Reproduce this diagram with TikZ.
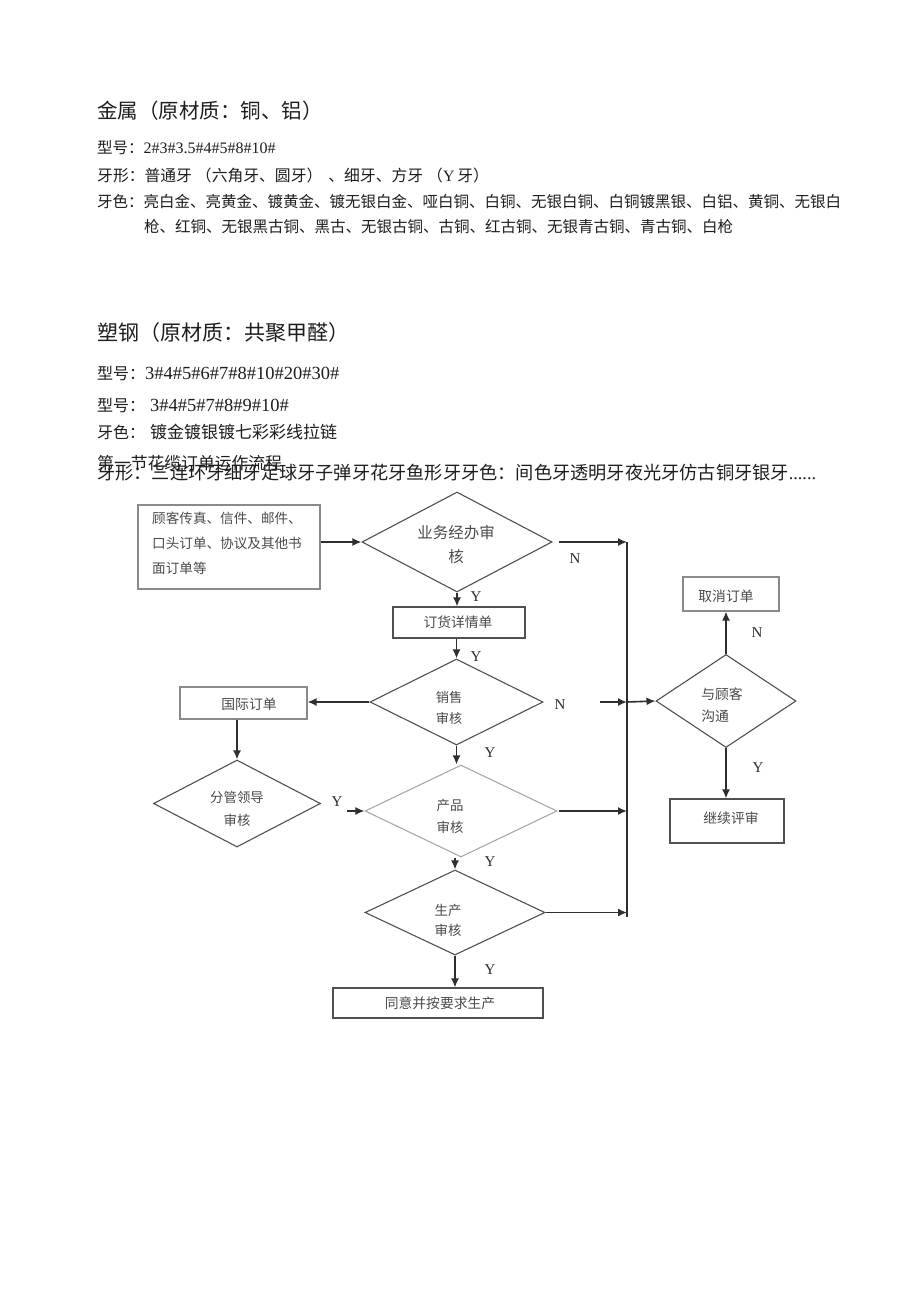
\documentclass[tikz,border=0pt]{standalone}
\usepackage{fontspec}
\setmainfont{Liberation Serif}
\newfontfamily\cjk{Noto Sans CJK SC}
\usetikzlibrary{arrows.meta,shapes.geometric}
\definecolor{ink}{HTML}{1E1E1E}
\definecolor{fl}{HTML}{2E2E2E}
\definecolor{ft}{HTML}{4A4A4A}
\definecolor{bxd}{HTML}{505050}
\definecolor{bxl}{HTML}{8A8A8A}
\definecolor{dil}{HTML}{A8A8A8}
\newcommand\fsz[2]{\fontsize{#1}{#2}\selectfont}
\tikzset{
  tl/.style={anchor=west, inner sep=0pt, text=ink},
  boxd/.style={draw=bxd, line width=1.1pt, inner sep=0pt},
  boxl/.style={draw=bxl, line width=1.1pt, inner sep=0pt},
  dia/.style={shape=diamond, draw=bxd, line width=1.1pt, inner sep=0pt},
  lin/.style={draw=fl, line width=1.5pt},
  arr/.style={draw=fl, line width=1.6pt, -{Latex[length=9pt,width=8pt]}},
  yn/.style={font={\fsz{15}{18}\rmfamily}, text=fl, inner sep=0pt},
  ftx/.style={font={\fsz{13.8}{22}\cjk}, text=ft, inner sep=0pt, align=center},
}
\begin{document}
\begin{tikzpicture}[x=1pt,y=-1pt]
\useasboundingbox[fill=white] (0,0) rectangle (920,1301);

% ---------- top text ----------
\node[tl] (t1) at (97,111) {\fsz{20.5}{24}\cjk 金属（原材质：铜、铝）};
\node[tl] (t2) at (97,148) {\fsz{15.5}{18}\cjk 型号：\rmfamily\fsz{16}{18}2\#3\#3.5\#4\#5\#8\#10\#};
\node[tl] (t3) at (97,175) {\fsz{15.8}{18}\cjk 牙形：普通牙\hspace{4pt}（六角牙、圆牙）\hspace{6pt}、细牙、方牙\hspace{4pt}（{\rmfamily Y}\hspace{3pt}牙）};
\node[tl] (t4) at (97,202) {\fsz{15.5}{18}\cjk 牙色：亮白金、亮黄金、镀黄金、镀无银白金、哑白铜、白铜、无银白铜、白铜镀黑银、白铝、黄铜、无银白};
\node[tl] (t5) at (144,227) {\fsz{15.5}{18}\cjk 枪、红铜、无银黑古铜、黑古、无银古铜、古铜、红古铜、无银青古铜、青古铜、白枪};

\node[tl] (t6) at (97,333) {\fsz{21}{24}\cjk 塑钢（原材质：共聚甲醛）};
\node[tl] (t7) at (97,373) {\fsz{16}{18}\cjk 型号：\rmfamily\fsz{18.5}{18}3\#4\#5\#6\#7\#8\#10\#20\#30\#};
\node[tl] (t8) at (97,405) {\fsz{16}{18}\cjk 型号：\hspace{5pt}\rmfamily\fsz{18.5}{18}3\#4\#5\#7\#8\#9\#10\#};
\node[tl] (t9) at (97,432) {\fsz{16}{18}\cjk 牙色：\hspace{5pt}\fsz{17}{18}镀金镀银镀七彩彩线拉链};
\node[tl] (t10) at (97,463) {\fsz{16.8}{18}\cjk 第一节花缆订单运作流程};
\node[tl] (t11) at (97,473) {\fsz{18.2}{20}\cjk 牙形：三连环牙细牙足球牙子弹牙花牙鱼形牙牙色：间色牙透明牙夜光牙仿古铜牙银牙\rmfamily ......};

% ---------- flowchart shapes ----------
\node[boxl, minimum width=182pt, minimum height=84pt] (A) at (229,547) {};
\node[ftx, anchor=north west, align=left, font={\fsz{13.6}{25}\cjk}] (At) at (152,512) {顾客传真、信件、邮件、\\口头订单、协议及其他书\\面订单等};

\node[dia, minimum width=190pt, minimum height=100pt] (B) at (457,542) {};
\node[ftx, font={\fsz{15.5}{24}\cjk}] (Bt) at (456,545) {业务经办审\\核};

\node[boxd, minimum width=132pt, minimum height=31pt] (D) at (459,622.5) {};
\node[ftx] (Dt) at (458,622.5) {订货详情单};

\node[dia, minimum width=173pt, minimum height=86pt] (S) at (456.5,702) {};
\node[ftx, font={\fsz{13.2}{21}\cjk}] (St) at (449,708) {销售\\审核};

\node[boxl, minimum width=127pt, minimum height=32pt] (G) at (243.5,703) {};
\node[ftx] (Gt) at (249,704) {国际订单};

\node[dia, minimum width=167pt, minimum height=87pt] (F) at (237,803.5) {};
\node[ftx, font={\fsz{13.4}{23}\cjk}] (Ft) at (237,808.5) {分管领导\\审核};

\node[dia, draw=dil, minimum width=192pt, minimum height=92pt] (P) at (461,811) {};
\node[ftx, font={\fsz{13.4}{22}\cjk}] (Pt) at (450,816) {产品\\审核};

\node[dia, minimum width=180pt, minimum height=85pt] (R) at (455,912.5) {};
\node[ftx, font={\fsz{13.4}{20}\cjk}] (Rt) at (448,920) {生产\\审核};

\node[boxd, minimum width=210pt, minimum height=30pt] (T) at (438,1003) {};
\node[ftx] (Tt) at (440,1003) {同意并按要求生产};

\node[boxl, minimum width=96pt, minimum height=34pt] (Q) at (731,594) {};
\node[ftx] (Qt) at (726,596) {取消订单};

\node[dia, minimum width=140pt, minimum height=93pt] (C) at (726,701) {};
\node[ftx, align=left] (Ct) at (722,705) {与顾客\\沟通};

\node[boxd, minimum width=114pt, minimum height=44pt] (K) at (727,821) {};
\node[ftx] (Kt) at (731,818) {继续评审};

% ---------- connectors ----------
\coordinate (V1) at (627,542);
\coordinate (V2) at (627,917);
\draw[lin] (V1) -- (V2);

\draw[arr] (A.east |- B.west) -- (B.west);
\draw[arr] ([xshift=6pt]B.east) -- (V1);
\node[yn] (n1) at (575,559) {N};

\draw[arr] (B.south) -- (B.south |- D.north);
\node[yn] (y1) at (476,597) {Y};

\draw[arr] (S.north |- D.south) -- (S.north);
\node[yn] (y2) at (476,657) {Y};

\draw[arr] (S.west) -- (G.east |- S.west);
\node[yn] (n2) at (560,705) {N};
\coordinate (ns) at (600,702);
\coordinate (vs) at (627,702);
\draw[arr] (ns) -- (vs);
\draw[arr] (vs) -- (C.west);

\draw[arr] (F.north |- G.south) -- (F.north);
\node[yn] (y3) at (337,802) {Y};
\coordinate (fy) at (347,811);
\draw[arr] (fy) -- (P.west);

\draw[arr] (S.south) -- (S.south |- P.north);
\node[yn] (y4) at (490,753) {Y};
\draw[arr] ([xshift=1pt]P.east) -- (P.east -| V1);

\draw[arr] (R.north |- P.south) -- (R.north);
\node[yn] (y5) at (490,862) {Y};
\draw[arr] (R.east) -- (R.east -| V1);

\draw[arr] (R.south) -- (R.south |- T.north);
\node[yn] (y6) at (490,970) {Y};

\draw[arr] (C.north) -- (C.north |- Q.south);
\node[yn] (n3) at (757,633) {N};
\draw[arr] (C.south) -- (C.south |- K.north);
\node[yn] (y7) at (758,768) {Y};
\end{tikzpicture}
\end{document}
